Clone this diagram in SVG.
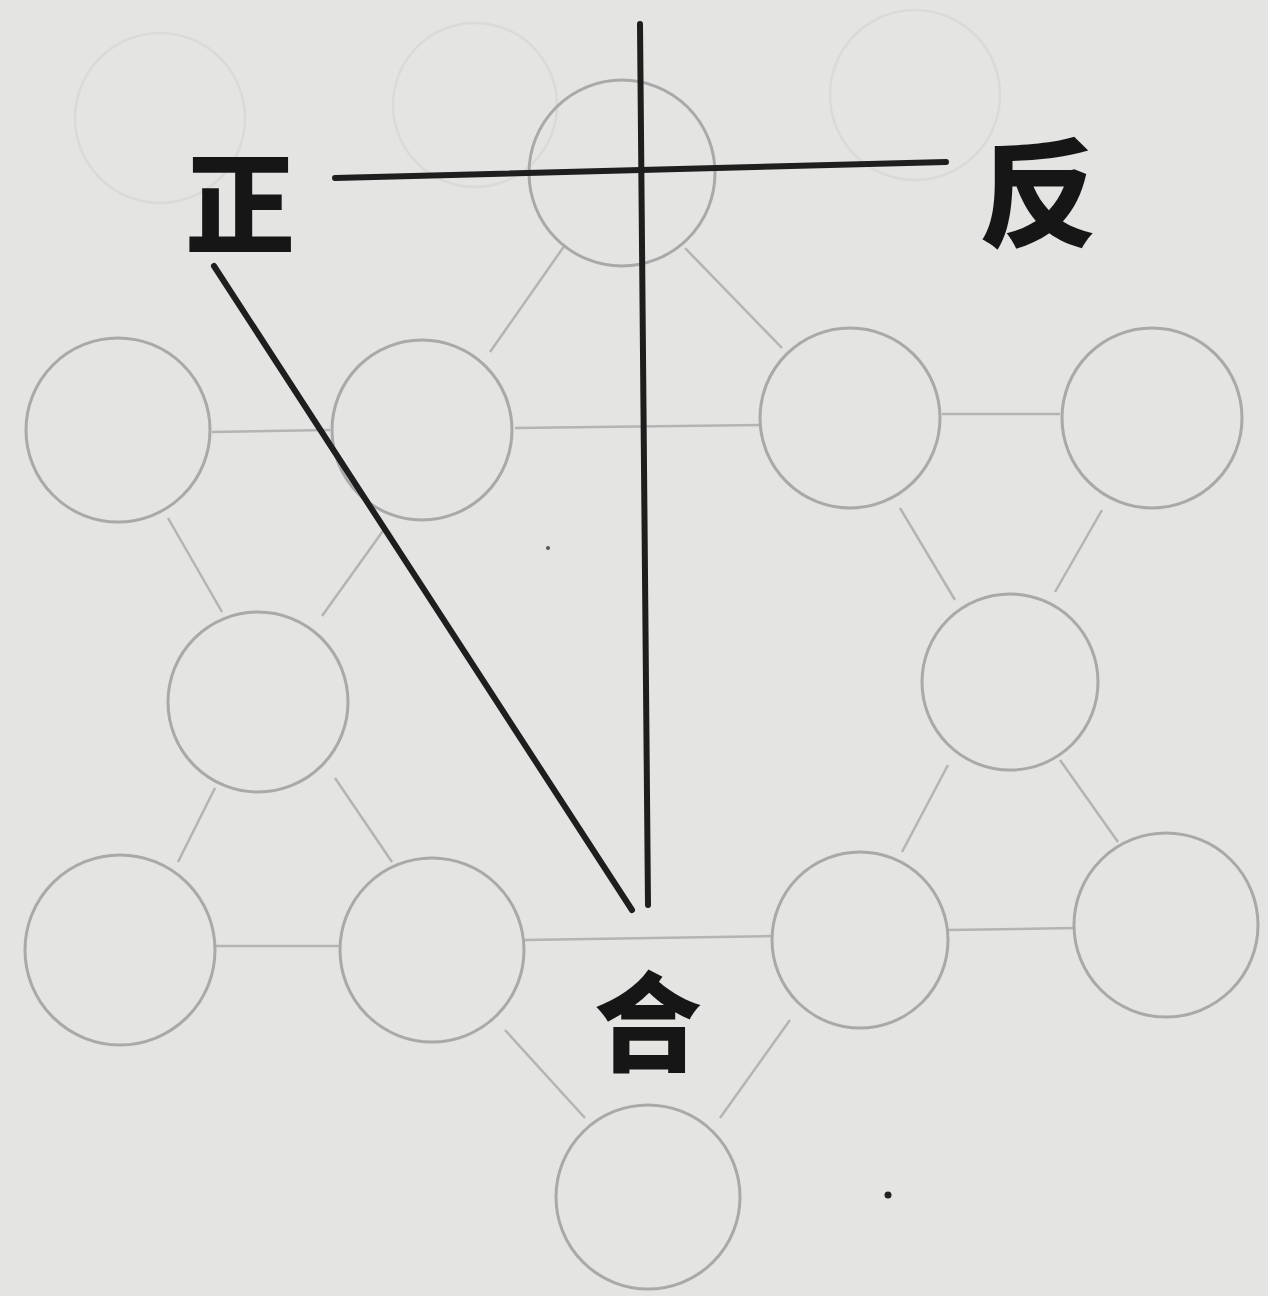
<svg xmlns="http://www.w3.org/2000/svg" width="1268" height="1296" viewBox="0 0 1268 1296">
<style>
.bg{fill:#e4e4e2}
.node circle{fill:none;stroke:#a9a9a9;stroke-width:3}
.ghost circle{fill:none;stroke:#dadad8;stroke-width:2.5}
.link line{stroke:#b4b4b4;stroke-width:2.5}
.bold line{stroke:#1e1e1e;stroke-width:6;stroke-linecap:round}
.lbl{font-family:"Noto Sans CJK SC","Noto Sans CJK JP",sans-serif;font-weight:900;fill:#161616;text-anchor:middle;dominant-baseline:central}
</style>
<rect class="bg" x="0" y="0" width="1268" height="1296"/>
<g class="ghost">
<circle cx="160" cy="118" r="85"/>
<circle cx="475" cy="105" r="82"/>
<circle cx="915" cy="95" r="85"/>
</g>
<g id="connectors" class="link">
<line x1="565" y1="245" x2="490" y2="352"/>
<line x1="685" y1="248" x2="782" y2="348"/>
<line x1="212" y1="432" x2="330" y2="430"/>
<line x1="515" y1="428" x2="760" y2="425"/>
<line x1="942" y1="414" x2="1060" y2="414"/>
<line x1="168" y1="518" x2="222" y2="612"/>
<line x1="385" y1="528" x2="322" y2="616"/>
<line x1="900" y1="508" x2="955" y2="600"/>
<line x1="1102" y1="510" x2="1055" y2="592"/>
<line x1="215" y1="788" x2="178" y2="862"/>
<line x1="335" y1="778" x2="392" y2="862"/>
<line x1="948" y1="765" x2="902" y2="852"/>
<line x1="1060" y1="760" x2="1118" y2="842"/>
<line x1="215" y1="946" x2="340" y2="946"/>
<line x1="525" y1="940" x2="772" y2="936"/>
<line x1="948" y1="930" x2="1075" y2="928"/>
<line x1="505" y1="1030" x2="585" y2="1118"/>
<line x1="790" y1="1020" x2="720" y2="1118"/>
</g>
<g id="n-top" class="node"><circle cx="622" cy="173" r="93"/></g>
<g id="n-r1a" class="node"><circle cx="118" cy="430" r="92"/></g>
<g id="n-r1b" class="node"><circle cx="422" cy="430" r="90"/></g>
<g id="n-r1c" class="node"><circle cx="850" cy="418" r="90"/></g>
<g id="n-r1d" class="node"><circle cx="1152" cy="418" r="90"/></g>
<g id="n-r2a" class="node"><circle cx="258" cy="702" r="90"/></g>
<g id="n-r2b" class="node"><circle cx="1010" cy="682" r="88"/></g>
<g id="n-r3a" class="node"><circle cx="120" cy="950" r="95"/></g>
<g id="n-r3b" class="node"><circle cx="432" cy="950" r="92"/></g>
<g id="n-r3c" class="node"><circle cx="860" cy="940" r="88"/></g>
<g id="n-r3d" class="node"><circle cx="1166" cy="925" r="92"/></g>
<g id="n-bottom" class="node"><circle cx="648" cy="1197" r="92"/></g>
<g id="overlay" class="bold">
<line x1="640" y1="24" x2="648" y2="905"/>
<line x1="335" y1="178" x2="946" y2="162"/>
<line x1="214" y1="266" x2="632" y2="910"/>
</g>
<g id="zheng"><text class="lbl" x="240" y="197" font-size="110">正</text></g>
<g id="fan"><text class="lbl" x="1038" y="186" font-size="118">反</text></g>
<g id="he"><text class="lbl" x="648" y="1016" font-size="108">合</text></g>
<circle cx="888" cy="1195" r="3.5" fill="#222"/>
<circle cx="548" cy="548" r="2" fill="#555"/>
</svg>
